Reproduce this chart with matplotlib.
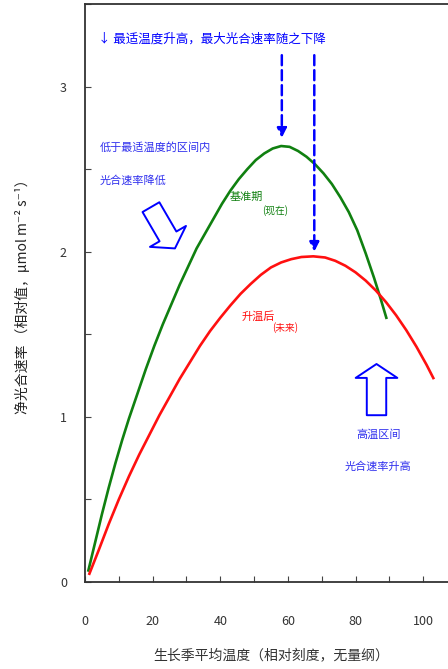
# %% Initialize
import matplotlib
matplotlib.use('Agg')
import matplotlib.pyplot as plt
from matplotlib.patches import FancyArrowPatch, ArrowStyle
from matplotlib.ticker import MultipleLocator

plt.rcParams['font.family'] = ['Noto Sans CJK SC', 'DejaVu Sans']

# %% Data
baseX = [1.0, 3.0, 5.0, 7.0, 9.0, 11.0, 13.0, 15.5, 18.0, 20.5, 23.0, 25.5,
         28.0, 30.5, 33.0, 35.5, 38.0, 40.5, 43.0, 45.5, 48.0, 50.5, 53.0,
         55.5, 58.0, 60.5, 63.0, 65.5, 68.0, 70.5, 73.0, 75.5, 78.0, 80.5,
         83.0, 85.5, 87.5, 89.1]
baseY = [0.07, 0.24, 0.41, 0.57, 0.72, 0.86, 0.99, 1.14, 1.29, 1.43, 1.56,
         1.68, 1.80, 1.91, 2.02, 2.11, 2.20, 2.29, 2.37, 2.44, 2.50, 2.555,
         2.595, 2.625, 2.64, 2.635, 2.61, 2.575, 2.53, 2.475, 2.41, 2.33,
         2.24, 2.13, 1.99, 1.84, 1.71, 1.60]

warmX = [1.3, 4.0, 7.0, 10.0, 13.0, 16.0, 19.0, 22.0, 25.0, 28.0, 31.0,
         34.0, 37.0, 40.0, 43.0, 46.0, 49.0, 52.0, 55.0, 58.0, 61.0, 64.0,
         67.5, 71.0, 74.0, 77.0, 80.0, 83.0, 86.0, 89.0, 92.0, 95.0, 98.0,
         101.0, 103.0]
warmY = [0.05, 0.19, 0.35, 0.50, 0.64, 0.77, 0.89, 1.01, 1.12, 1.23, 1.33,
         1.43, 1.52, 1.60, 1.675, 1.745, 1.805, 1.86, 1.905, 1.935, 1.955,
         1.968, 1.972, 1.965, 1.945, 1.915, 1.875, 1.825, 1.765, 1.695,
         1.615, 1.525, 1.425, 1.315, 1.235]

xTicks = [0, 20, 40, 60, 80, 100]
yTicks = [0, 1, 2, 3]

titleText = '↓ 最适温度升高，最大光合速率随之下降'
leftNote = ['低于最适温度的区间内', '光合速率降低']
rightNote = ['高温区间', '光合速率升高']
baseLabel = ('基准期', '(现在)')
warmLabel = ('升温后', '(未来)')
xLabel = '生长季平均温度（相对刻度，无量纲）'
yLabel = '净光合速率 （相对值，μmol m⁻² s⁻¹）'

# peaks the dashed arrows point at
basePeak = (58.2, 2.69)
warmPeak = (67.8, 2.00)

# %% Figure
fig = plt.figure(figsize=(4.48, 6.69), dpi=100)
ax = fig.add_axes([85 / 448, 87 / 669, 372 / 448, 578 / 669])

ax.plot(baseX, baseY, color='#108010', lw=1.9)
ax.plot(warmX, warmY, color='#ff1010', lw=1.9)

ax.set_xlim(0, 110)
ax.set_ylim(0, 3.5)

ax.set_xticks(xTicks)
ax.set_yticks(yTicks)
ax.xaxis.set_minor_locator(MultipleLocator(10))
ax.yaxis.set_minor_locator(MultipleLocator(0.5))
ax.tick_params(which='both', direction='in', length=4, width=0.8,
               color='#444444', labelsize=9, labelcolor='#333333')
ax.tick_params(axis='x', which='major', pad=24)
ax.tick_params(axis='y', which='major', pad=13)
for s in ax.spines.values():
    s.set_color('#333333')
    s.set_linewidth(1.3)

ax.set_xlabel(xLabel, fontsize=10, color='#333333', va='center')
ax.xaxis.set_label_coords(0.5, -0.126)
ax.set_ylabel(yLabel, fontsize=10, color='#222222', va='center')
ax.yaxis.set_label_coords(-0.169, 0.5)

# %% Annotations
ax.text(3.85, 3.29, titleText, color='blue', fontsize=9, va='center')

for peak in [basePeak, warmPeak]:
    ax.annotate('', xy=peak, xytext=(peak[0], 3.19),
                arrowprops=dict(arrowstyle='-|>', color='blue', lw=1.8,
                                linestyle=(0, (4, 2)), mutation_scale=14,
                                shrinkA=0, shrinkB=0))

ax.text(4.4, 2.63, leftNote[0], color='#3030ee', fontsize=8, va='center')
ax.text(4.4, 2.43, leftNote[1], color='#3030ee', fontsize=8, va='center')
ax.text(86.7, 0.89, rightNote[0], color='#3030ee', fontsize=8,
        va='center', ha='center')
ax.text(86.7, 0.70, rightNote[1], color='#3030ee', fontsize=8,
        va='center', ha='center')

ax.text(42.9, 2.33, baseLabel[0], color='#108010', fontsize=8, va='center')
ax.text(52.4, 2.25, baseLabel[1], color='#108010', fontsize=7, va='center')
ax.text(46.2, 1.61, warmLabel[0], color='#ff1010', fontsize=8, va='center')
ax.text(55.3, 1.54, warmLabel[1], color='#ff1010', fontsize=7, va='center')

# hollow arrows
hollow = ArrowStyle.Simple(head_length=10, head_width=30, tail_width=14)
for tail, tip in [((19.5, 2.27), (26.6, 2.02)), ((86.2, 1.01), (86.2, 1.32))]:
    ax.add_patch(FancyArrowPatch(tail, tip, arrowstyle=hollow,
                                 facecolor='white', edgecolor='blue', lw=1.4,
                                 shrinkA=0, shrinkB=0, zorder=4))

fig.savefig('out.png', dpi=100)
